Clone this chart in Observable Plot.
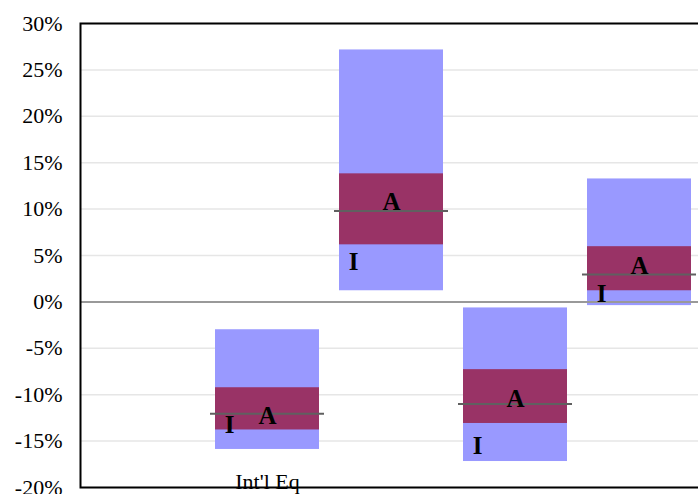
<!DOCTYPE html>
<html><head><meta charset="utf-8">
<script src="https://cdn.jsdelivr.net/npm/d3@7"></script>
<script src="https://cdn.jsdelivr.net/npm/@observablehq/plot@0.6"></script>
<style>body{margin:0;background:#fff} svg, svg text{font-family:"Liberation Serif","Times New Roman",serif !important;}</style>
</head><body><div id="chart"></div>
<script>
const categories = ["c0", "Int'l Eq", "c2", "c3", "c4"];
const tickLabels = ["", "Int'l Eq", "", "", ""];
const barCats = ["Int'l Eq", "c2", "c3", "c4"];
const blueLow = [-15.9, 1.2, -17.2, -0.4];
const blueHigh = [-3.0, 27.15, -0.65, 13.25];
const maroonLow = [-13.8, 6.15, -13.1, 1.2];
const maroonHigh = [-9.25, 13.8, -7.3, 5.95];
const meanVal = [-12.05, 9.8, -11.0, 2.95];
const aLabelY = [-13.15, 9.9, -11.3, 3.05];
const iLabelY = [-14.1, 3.45, -16.4, 0.0];
const yTicks = [-20, -15, -10, -5, 0, 5, 10, 15, 20, 25, 30];

const rows = barCats.map((c, i) => ({
  cat: c, bLo: blueLow[i], bHi: blueHigh[i], mLo: maroonLow[i], mHi: maroonHigh[i],
  mean: meanVal[i], aY: aLabelY[i], iY: iLabelY[i]
}));

const font = "'Liberation Serif', 'Times New Roman', serif";
const chart = Plot.plot({
  width: 698, height: 494,
  marginLeft: 80, marginRight: -4, marginTop: 23, marginBottom: 7,
  style: {fontFamily: font, background: "#fff"},
  x: {domain: categories, paddingInner: 0.163, paddingOuter: 0.0815, axis: null},
  y: {domain: [-20, 30], axis: null},
  marks: [
    Plot.gridY(yTicks.filter(d => d !== 0), {stroke: "#e6e6e6", strokeOpacity: 1, strokeWidth: 1.5}),
    Plot.barY(rows, {x: "cat", y1: "bLo", y2: "bHi", fill: "#9999ff", inset: 0}),
    Plot.barY(rows, {x: "cat", y1: "mLo", y2: "mHi", fill: "#993366", inset: 0}),
    Plot.ruleY([0], {stroke: "#999", strokeWidth: 2}),
    Plot.tickY(rows, {x: "cat", y: "mean", stroke: "#606060", strokeWidth: 2, insetLeft: -5, insetRight: -5}),
    Plot.text(rows, {x: "cat", y: "aY", text: () => "A", fontWeight: "bold", fontSize: 25, fontFamily: font, lineAnchor: "bottom", fill: "#000"}),
    Plot.text(rows, {x: "cat", y: "iY", text: () => "I", fontWeight: "bold", fontSize: 25, fontFamily: font, lineAnchor: "bottom", dx: -38, fill: "#000"}),
    Plot.axisY({ticks: yTicks, tickFormat: d => d + "%", tickSize: 0, tickPadding: 18, fontSize: 22, fontFamily: font, fill: "#000"}),
    Plot.axisX({tickFormat: (d) => tickLabels[categories.indexOf(d)], tickSize: 0, tickPadding: -14, fontSize: 22, fontFamily: font, fill: "#000", label: null}),
    Plot.frame({stroke: "#000", strokeWidth: 2})
  ]
});
document.getElementById("chart").appendChild(chart);
</script>
</body></html>
